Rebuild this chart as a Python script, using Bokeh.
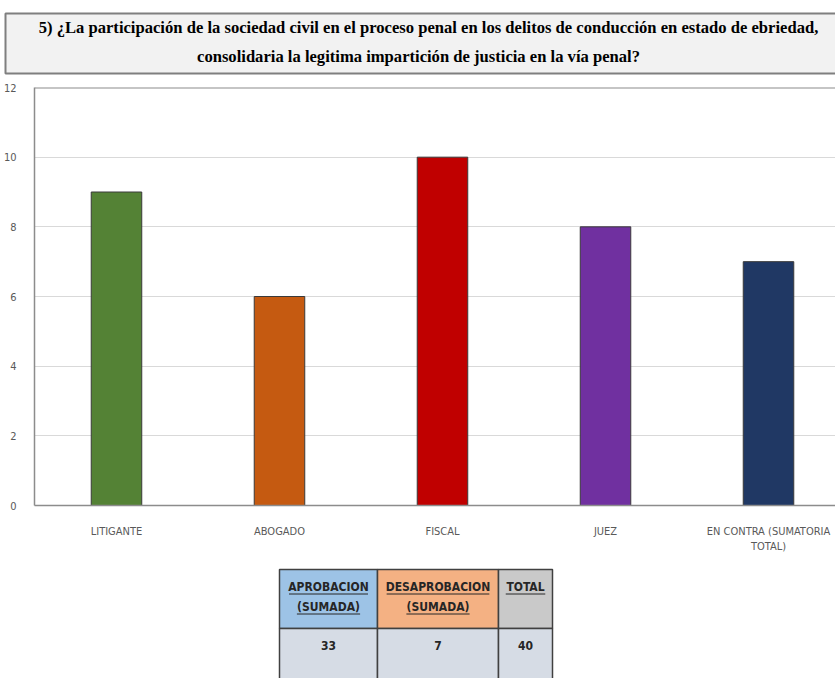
from bokeh.plotting import figure
from bokeh.layouts import column, row
from bokeh.models import Range1d, FixedTicker, Span, ColumnDataSource
from bokeh.core.properties import value
from bokeh.embed import file_html
from bokeh.resources import INLINE

# ---- data ----
categories = ["LITIGANTE", "ABOGADO", "FISCAL", "JUEZ", "EN CONTRA (SUMATORIA\nTOTAL)"]
counts = [9, 6, 10, 8, 7]
bar_colors = ["#548235", "#C55A11", "#C00000", "#7030A0", "#203864"]
y_ticks = [0, 2, 4, 6, 8, 10, 12]

title_lines = [
    "5) ¿La participación de la sociedad civil en el proceso penal en los delitos de conducción en estado de ebriedad,",
    "consolidaria la legitima impartición de justicia en la vía penal?",
]

table_headers = ["APROBACION\n(SUMADA)", "DESAPROBACION\n(SUMADA)", "TOTAL"]
table_values = ["33", "7", "40"]
header_colors = ["#9DC3E6", "#F4B183", "#C9C9C9"]

W = 835
NARROW = "'Liberation Sans Narrow', 'DejaVu Sans Condensed', 'Open Sans', sans-serif"


def blank(height):
    f = figure(width=W, height=height, x_range=Range1d(0, W), y_range=Range1d(height, 0),
               toolbar_location=None, output_backend="svg", min_border=0,
               x_axis_location=None, y_axis_location=None)
    f.grid.visible = False
    f.outline_line_color = None
    return f


# ---- title ----
tf = blank(80)
tf.quad(left=[5], right=[W + 10], top=[13], bottom=[73], fill_color="#F2F2F2",
        line_color="#7F7F7F", line_width=2)
tf.text(x=[428, 418], y=[27, 56], text=title_lines, text_align="center",
        text_baseline="middle", text_font=value("Liberation Serif"),
        text_font_style="bold", text_font_size="16.6px", text_color="#000000")

# ---- chart ----
xs = list(range(len(categories)))
src = ColumnDataSource(dict(x=xs, top=counts, color=bar_colors))
p = figure(width=W, height=480, x_range=Range1d(-0.503, 4.411), y_range=Range1d(0, 12),
           toolbar_location=None, output_backend="svg",
           min_border_left=34, min_border_right=0, min_border_top=7, min_border_bottom=55)
p.vbar(x="x", top="top", width=0.31, bottom=0, fill_color="color",
       line_color="#3a3a3a", line_width=1, source=src)
p.outline_line_color = None
p.xgrid.visible = False
p.ygrid.grid_line_color = "#D9D9D9"
p.ygrid.grid_line_width = 1
p.yaxis.ticker = FixedTicker(ticks=y_ticks)
p.xaxis.ticker = FixedTicker(ticks=xs)
p.xaxis.major_label_overrides = {i: c for i, c in enumerate(categories)}
for ax in (p.xaxis[0], p.yaxis[0]):
    ax.axis_line_color = "#8C8C8C"
    ax.axis_line_width = 1.5
    ax.major_tick_line_color = None
    ax.minor_tick_line_color = None
    ax.major_label_text_font = NARROW
    ax.major_label_text_font_size = "11px"
    ax.major_label_text_color = "#595959"
p.yaxis.major_label_standoff = 12
p.xaxis.major_label_standoff = 13
p.add_layout(Span(location=12, dimension="width", line_color="#8C8C8C", line_width=2))

# ---- table ----
tb = blank(118)
col_edges = [279, 377, 498, 552]
lefts = col_edges[:-1]
rights = col_edges[1:]
centers = [(a + b) / 2 for a, b in zip(lefts, rights)]
tb.quad(left=lefts, right=rights, top=[9] * 3, bottom=[68] * 3,
        fill_color=header_colors, line_color="#404040", line_width=1.5)
tb.quad(left=lefts, right=rights, top=[68] * 3, bottom=[125] * 3,
        fill_color="#D6DCE5", line_color="#404040", line_width=1.5)

hx, hy, ht, ux0, ux1, uy = [], [], [], [], [], []
for c, h in zip(centers, table_headers):
    for k, line in enumerate(h.split("\n")):
        y = 26 + 20 * k
        hx.append(c)
        hy.append(y)
        ht.append(line)
        half = 3.95 * len(line)
        ux0.append(c - half)
        ux1.append(c + half)
        uy.append(y + 7.5)
tb.text(x=hx, y=hy, text=ht, text_align="center", text_baseline="middle",
        text_font=value(NARROW), text_font_style="bold", text_font_size="12px",
        text_color="#262626")
tb.segment(x0=ux0, y0=uy, x1=ux1, y1=uy, line_color="#262626", line_width=1)
tb.text(x=centers, y=[85] * 3, text=table_values, text_align="center",
        text_baseline="middle", text_font=value(NARROW),
        text_font_style="bold", text_font_size="12px", text_color="#262626")

layout = column(row(tf), row(p), row(tb), spacing=0)
open("out.html", "w").write(file_html(layout, INLINE))
